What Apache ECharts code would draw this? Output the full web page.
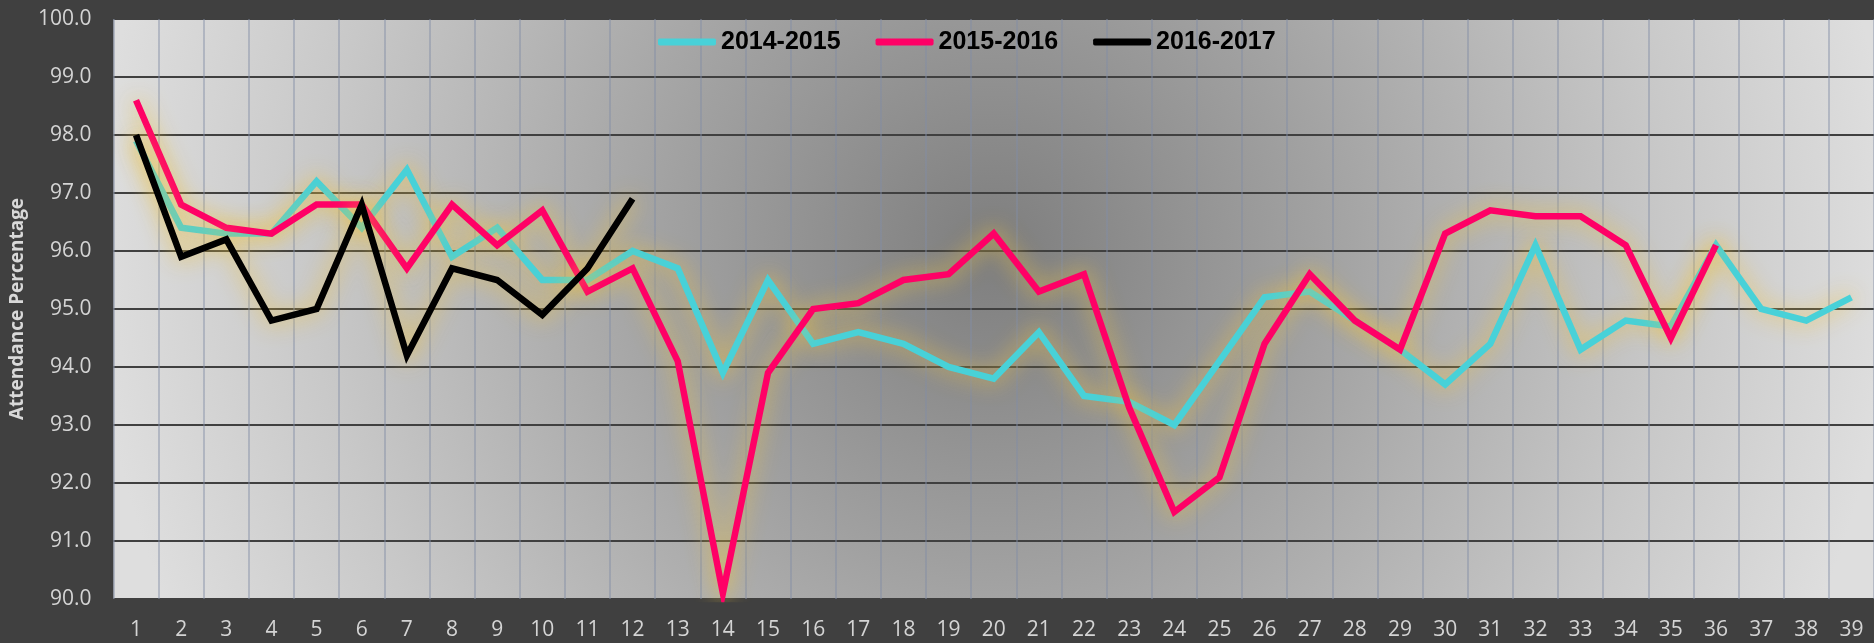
<!DOCTYPE html>
<html>
<head>
<meta charset="utf-8">
<script src="https://cdn.jsdelivr.net/npm/echarts@6/dist/echarts.min.js"></script>
<style>
    html, body {
        margin: 0;
        padding: 0;
        background: #404040;
    }

    #chart {
        width: 1874px;
        height: 643px;
    }
</style>
</head>
<body>
<div id="chart"></div>
<script>
    // school weeks 1..39
    var weeks = []
    for (var w = 1; w <= 39; w++) weeks.push(String(w))

    var yTicks = [90, 91, 92, 93, 94, 95, 96, 97, 98, 99, 100]

    var season1415 = [97.9, 96.4, 96.3, 96.3, 97.2, 96.4, 97.4, 95.9, 96.4, 95.5,
        95.5, 96.0, 95.7, 93.9, 95.5, 94.4, 94.6, 94.4, 94.0, 93.8,
        94.6, 93.5, 93.4, 93.0, 94.1, 95.2, 95.3, 94.8, 94.3, 93.7,
        94.4, 96.1, 94.3, 94.8, 94.7, 96.1, 95.0, 94.8, 95.2]

    var season1516 = [98.6, 96.8, 96.4, 96.3, 96.8, 96.8, 95.7, 96.8, 96.1, 96.7,
        95.3, 95.7, 94.1, 90.1, 93.9, 95.0, 95.1, 95.5, 95.6, 96.3,
        95.3, 95.6, 93.3, 91.5, 92.1, 94.4, 95.6, 94.8, 94.3, 96.3,
        96.7, 96.6, 96.6, 96.1, 94.5, 96.1]

    var season1617 = [98.0, 95.9, 96.2, 94.8, 95.0, 96.8, 94.2, 95.7, 95.5, 94.9,
        95.7, 96.9]

    var seriesNames = ['2014-2015', '2015-2016', '2016-2017']
    var seriesColors = ['#48d1d8', '#ff0066', '#000000']
    var seriesData = [season1415, season1516, season1617]

    var labelFont = '"Open Sans", sans-serif'

    function makeSeries(i) {
        return {
            name: seriesNames[i],
            type: 'line',
            data: seriesData[i],
            symbol: 'none',
            itemStyle: {color: seriesColors[i]},
            lineStyle: {
                color: seriesColors[i],
                width: 6.5,
                join: 'miter',
                shadowColor: 'rgba(240, 195, 60, 0.9)',
                shadowBlur: 22
            }
        }
    }

    var option = {
        backgroundColor: '#404040',
        animation: false,
        legend: {
            left: 653,
            top: 24,
            icon: 'roundRect',
            itemWidth: 58,
            itemHeight: 7,
            itemGap: 35,
            itemStyle: {shadowBlur: 0},
            textStyle: {
                color: '#000',
                fontFamily: '"Liberation Sans", sans-serif',
                fontWeight: 'bold',
                fontSize: 25,
                lineHeight: 26
            },
            data: seriesNames
        },
        grid: {
            left: 111,
            top: 19,
            width: 1768,
            height: 580,
            show: true,
            borderWidth: 0,
            backgroundColor: {
                type: 'radial',
                x: 0.5,
                y: 0.4,
                r: 1.55,
                colorStops: [
                    {offset: 0, color: '#7e7e7e'},
                    {offset: 0.35, color: '#a0a0a0'},
                    {offset: 0.75, color: '#c8c8c8'},
                    {offset: 1, color: '#dedede'}
                ]
            }
        },
        xAxis: {
            type: 'category',
            data: weeks,
            boundaryGap: true,
            axisLine: {show: false},
            axisTick: {show: false},
            axisLabel: {
                color: '#d4d4d4',
                fontFamily: labelFont,
                fontSize: 21,
                margin: 21
            },
            splitLine: {
                show: true,
                lineStyle: {color: 'rgba(130, 140, 165, 0.6)', width: 1.5}
            }
        },
        yAxis: {
            type: 'value',
            min: yTicks[0],
            max: yTicks[yTicks.length - 1],
            interval: 1,
            name: 'Attendance Percentage',
            nameLocation: 'middle',
            nameGap: 76,
            nameTextStyle: {
                color: '#d9d9d9',
                fontFamily: labelFont,
                fontWeight: 'bold',
                fontSize: 19
            },
            axisLine: {show: false},
            axisTick: {show: false},
            axisLabel: {
                color: '#d4d4d4',
                fontFamily: labelFont,
                fontSize: 21,
                margin: 22,
                formatter: function (v) {
                    return v.toFixed(1)
                }
            },
            splitLine: {
                lineStyle: {color: '#404040', width: 2}
            }
        },
        series: [makeSeries(0), makeSeries(1), makeSeries(2)]
    }

    var myChart = echarts.init(document.getElementById('chart'))
    myChart.setOption(option)
</script>
</body>
</html>
